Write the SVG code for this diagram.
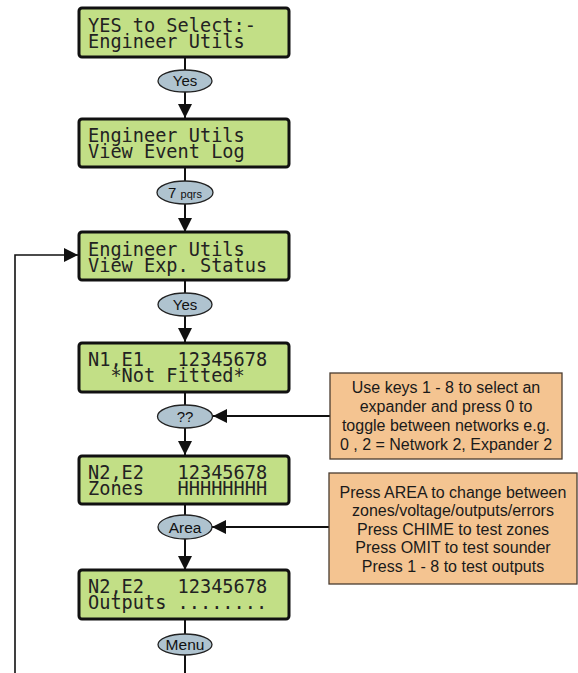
<svg xmlns="http://www.w3.org/2000/svg" width="578" height="673" viewBox="0 0 578 673">
<defs>
<style>
.lcd rect{fill:#c2df86;stroke:#111;stroke-width:3}
.lcd text{font-family:"DejaVu Sans Mono","Liberation Mono",monospace;font-size:18.6px;fill:#222}
.key ellipse{fill:#afc3cf;stroke:#222;stroke-width:1.3}
.key text{font-family:"Liberation Sans",Arial,sans-serif;font-size:15px;fill:#111;text-anchor:middle}
.note rect{fill:#f4c491;stroke:#4a3c30;stroke-width:1.3}
.note text{font-family:"Liberation Sans",Arial,sans-serif;font-size:16px;fill:#1a1a1a;text-anchor:middle}
.conn line,.conn polyline{stroke:#111;stroke-width:2;fill:none}
</style>
<marker id="ah" markerUnits="userSpaceOnUse" markerWidth="14" markerHeight="14" viewBox="0 0 12 12" refX="12" refY="6" orient="auto">
<path d="M0,0 L12,6 L0,12 Z" fill="#111"/>
</marker>
</defs>
<g class="conn" id="connectors">
<line x1="185" y1="57" x2="185" y2="70"/>
<line x1="185" y1="92" x2="185" y2="118" marker-end="url(#ah)"/>
<line x1="185" y1="167" x2="185" y2="181"/>
<line x1="185" y1="204" x2="185" y2="232" marker-end="url(#ah)"/>
<line x1="185" y1="280" x2="185" y2="293"/>
<line x1="185" y1="316" x2="185" y2="342" marker-end="url(#ah)"/>
<line x1="185" y1="392" x2="185" y2="405"/>
<line x1="185" y1="428" x2="185" y2="455" marker-end="url(#ah)"/>
<line x1="185" y1="504" x2="185" y2="515"/>
<line x1="185" y1="539" x2="185" y2="570" marker-end="url(#ah)"/>
<line x1="185" y1="619" x2="185" y2="634"/>
<line x1="185" y1="655" x2="185" y2="673"/>
<polyline points="15,673 15,255 78,255" marker-end="url(#ah)" style="stroke-width:1.6"/>
<line x1="330" y1="416" x2="213" y2="416" marker-end="url(#ah)"/>
<line x1="329" y1="527" x2="212" y2="527" marker-end="url(#ah)"/>
</g>
<g class="lcd" id="lcd1"><rect x="79" y="8" width="210" height="49" rx="3"/><text xml:space="preserve"><tspan x="88" y="32">YES to Select:-</tspan><tspan x="88" y="48">Engineer Utils</tspan></text></g>
<g class="lcd" id="lcd2"><rect x="79" y="119" width="210" height="48" rx="3"/><text xml:space="preserve"><tspan x="88" y="142">Engineer Utils</tspan><tspan x="88" y="158">View Event Log</tspan></text></g>
<g class="lcd" id="lcd3"><rect x="79" y="232" width="210" height="48" rx="3"/><text xml:space="preserve"><tspan x="88" y="256">Engineer Utils</tspan><tspan x="88" y="272">View Exp. Status</tspan></text></g>
<g class="lcd" id="lcd4"><rect x="79" y="343" width="210" height="49" rx="3"/><text xml:space="preserve"><tspan x="88" y="366">N1,E1   12345678</tspan><tspan x="88" y="382">  *Not Fitted*</tspan></text></g>
<g class="lcd" id="lcd5"><rect x="79" y="456" width="210" height="48" rx="3"/><text xml:space="preserve"><tspan x="88" y="479">N2,E2   12345678</tspan><tspan x="88" y="495">Zones   HHHHHHHH</tspan></text></g>
<g class="lcd" id="lcd6"><rect x="79" y="570" width="210" height="49" rx="3"/><text xml:space="preserve"><tspan x="88" y="593">N2,E2   12345678</tspan><tspan x="88" y="609">Outputs ........</tspan></text></g>
<g class="key" id="key-yes1"><ellipse cx="185" cy="81" rx="27" ry="11"/><text x="185" y="86">Yes</text></g>
<g class="key" id="key-7"><ellipse cx="185" cy="192.5" rx="28" ry="11.5"/><text x="185" y="198"><tspan>7 </tspan><tspan style="font-size:11px">pqrs</tspan></text></g>
<g class="key" id="key-yes2"><ellipse cx="185" cy="304.5" rx="27" ry="11.5"/><text x="185" y="310">Yes</text></g>
<g class="key" id="key-qq"><ellipse cx="185" cy="416.5" rx="27.5" ry="11.5"/><text x="185" y="422">??</text></g>
<g class="key" id="key-area"><ellipse cx="185" cy="527" rx="27" ry="12"/><text x="185" y="532.5" style="font-size:15.5px">Area</text></g>
<g class="key" id="key-menu"><ellipse cx="185" cy="644.5" rx="27" ry="10.5"/><text x="185" y="650" style="font-size:15.5px">Menu</text></g>
<g class="note" id="note1"><rect x="330" y="373" width="232" height="86"/>
<text x="446" y="393">Use keys 1 - 8 to select an</text>
<text x="446" y="412">expander and press 0 to</text>
<text x="446" y="431">toggle between networks e.g.</text>
<text x="446" y="450">0 , 2 = Network 2, Expander 2</text></g>
<g class="note" id="note2"><rect x="329" y="473" width="248" height="111"/>
<text x="453" y="498">Press AREA to change between</text>
<text x="453" y="516">zones/voltage/outputs/errors</text>
<text x="453" y="535">Press CHIME to test zones</text>
<text x="453" y="553">Press OMIT to test sounder</text>
<text x="453" y="572">Press 1 - 8 to test outputs</text></g>
</svg>
